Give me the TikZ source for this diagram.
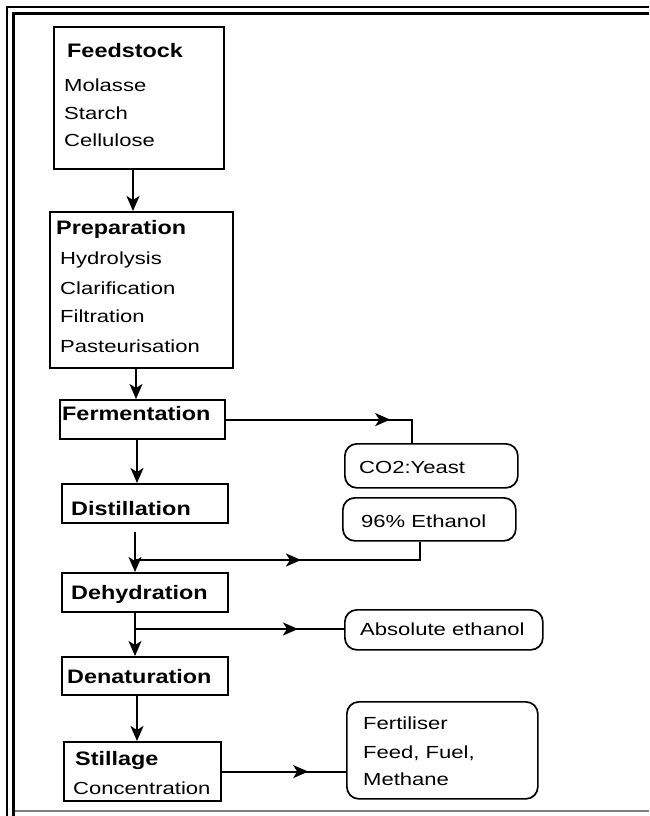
\documentclass[tikz,border=0pt]{standalone}
\usepackage{fontspec}
\setmainfont{Liberation Sans}[FakeStretch=1.26]
\newfontfamily\bfam{Liberation Sans}[FakeStretch=1.2]
\usetikzlibrary{arrows.meta,decorations.markings}
\newcommand\regfont{\fontsize{17.5}{20}\selectfont}
\newcommand\boldfont{\bfam\bfseries\fontsize{19.5}{22}\selectfont}
\newcommand\drawbox[6]{\node[#1, anchor=north west, minimum width={(#5-#3)*1pt}, minimum height={(#6-#4)*1pt}] (#2) at (#3,#4) {};}
\newcommand\txtR[4]{\node[anchor=base west, inner sep=0pt, font=\regfont] (#1) at (#2,#3) {#4};}
\newcommand\txtB[4]{\node[anchor=base west, inner sep=0pt, font=\boldfont] (#1) at (#2,#3) {#4};}
\begin{document}
\begin{tikzpicture}[x=1pt,y=-1pt,
  box/.style={draw, line width=2.2pt, rectangle, inner sep=0pt},
  rbox/.style={draw, line width=1.7pt, rectangle, rounded corners=12pt, inner sep=0pt},
  conn/.style={line width=2pt},
  headend/.style={-{Stealth[length=15pt,width=13pt,inset=4pt]}},
  midarr/.style={postaction={decorate}, decoration={markings, mark=at position #1 with {\arrow{Stealth[length=15pt,width=13pt,inset=4pt]}}}}]
\useasboundingbox (0,0) rectangle (649,816);
% frame
\draw[line width=2.6pt] (7,816) -- (7,7) -- (649,7);
\draw[line width=2.6pt] (13.5,816) -- (13.5,13.5) -- (649,13.5);
\draw[gray, line width=1.8pt] (14.5,811) -- (649,811);
% boxes
\drawbox{box}{feed}{53}{26}{223}{168}
\drawbox{box}{prep}{49}{211}{232}{367}
\drawbox{box}{ferm}{59}{399}{224}{438}
\drawbox{box}{dist}{61}{483}{227}{522}
\drawbox{box}{dehy}{61}{572}{227}{611}
\drawbox{box}{dena}{61}{656}{227}{694}
\drawbox{box}{still}{63}{741}{220}{800}
\drawbox{rbox}{co2}{344}{443}{517}{487}
\drawbox{rbox}{eth}{342}{497}{515}{540}
\drawbox{rbox}{abs}{344}{609}{542}{649}
\drawbox{rbox}{fert}{346}{701}{537}{798}
% texts
\txtB{t1}{67}{57}{Feedstock}
\txtR{t2}{64}{92}{Molasse}
\txtR{t3}{64}{119}{Starch}
\txtR{t4}{64}{146}{Cellulose}
\txtB{t5}{56}{234}{Preparation}
\txtR{t6}{60}{264}{Hydrolysis}
\txtR{t7}{60}{294}{Clarification}
\txtR{t8}{60}{322}{Filtration}
\txtR{t9}{60}{352}{Pasteurisation}
\txtB{t10}{62}{420}{Fermentation}
\txtB{t11}{71}{515}{Distillation}
\txtB{t12}{71}{599}{Dehydration}
\txtB{t13}{67}{683}{Denaturation}
\txtB{t14}{75}{765}{Stillage}
\txtR{t15}{73}{794}{Concentration}
\txtR{t16}{359}{473}{CO2:Yeast}
\txtR{t17}{361}{527}{96\% Ethanol}
\txtR{t18}{360}{635}{Absolute ethanol}
\txtR{t19}{363}{729}{Fertiliser}
\txtR{t20}{363}{758}{Feed, Fuel,}
\txtR{t21}{363}{785}{Methane}
% column coordinates
\coordinate (ca) at (133,0);
\coordinate (cb) at (136,0);
\coordinate (cc) at (137,0);
\coordinate (cd) at (135,0);
\coordinate (ce) at (137,0);
\coordinate (cE) at (420,0);
\coordinate (cF) at (412,0);
\coordinate (j1) at (135,560);
\coordinate (j2) at (135,629);
% vertical connectors
\draw[conn,headend] (feed.south -| ca) -- (prep.north -| ca);
\draw[conn,headend] (prep.south -| cb) -- (ferm.north -| cb);
\draw[conn,headend] (ferm.south -| cc) -- (dist.north -| cc);
\draw[conn,headend,shorten <=8pt] (dist.south -| cd) -- (dehy.north -| cd);
\draw[conn,headend] (dehy.south -| cd) -- (dena.north -| cd);
\draw[conn,headend] (dena.south -| ce) -- (still.north -| ce);
% side connectors
\draw[conn,midarr=164pt] (ferm.east) -- (ferm.east -| cF) -- (co2.north -| cF);
\draw[conn,midarr=166pt] (j1) -- (j1 -| cE) -- (eth.south -| cE);
\draw[conn,midarr=163pt] (j2) -- (j2 -| abs.west);
\draw[conn,midarr=86pt] (still.east) -- (still.east -| fert.west);
\end{tikzpicture}
\end{document}
